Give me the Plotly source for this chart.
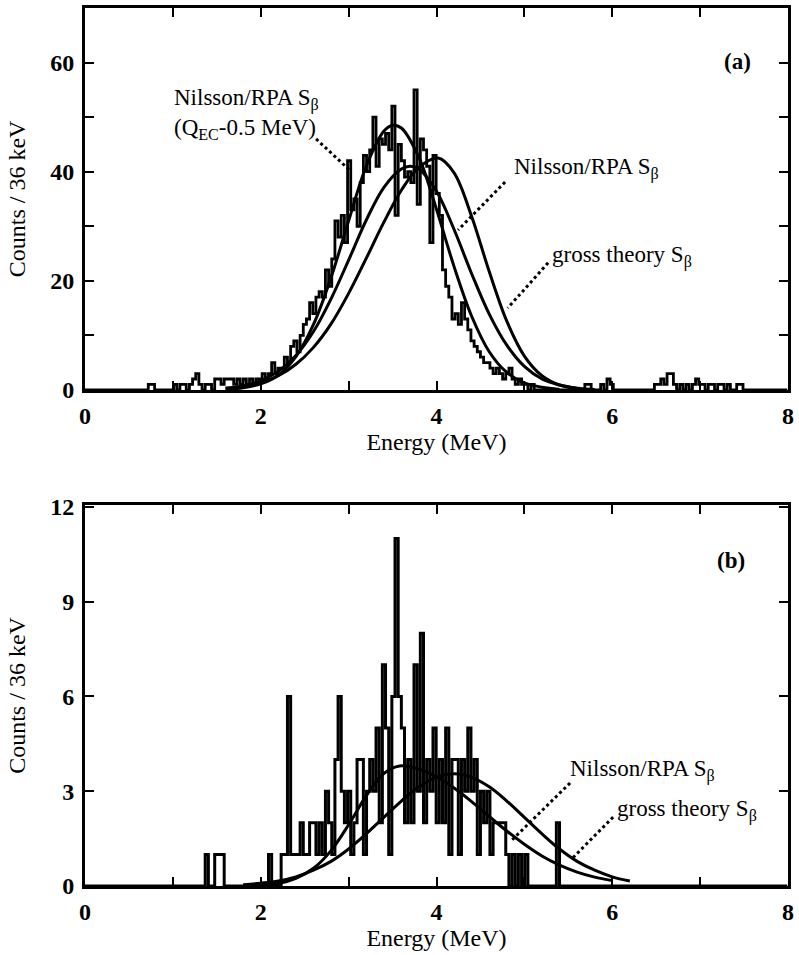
import plotly.graph_objects as go

BIN_WIDTH = 0.036  # MeV per bin (36 keV)

# ---- Panel (a): measured spectrum, counts per 36 keV bin starting at 0 MeV ----
counts_a = [
    0, 0, 0, 0, 0, 0, 0, 0, 0, 0,
    0, 0, 0, 0, 0, 0, 0, 0, 0, 0,
    1, 1, 0, 0, 0, 0, 0, 0, 1, 0,
    1, 1, 0, 1, 2, 3, 1, 0, 1, 1,
    0, 2, 2, 1, 2, 2, 2, 1, 2, 1,
    2, 1, 2, 1, 2, 2, 3, 2, 3, 5,
    3, 4, 4, 6, 5, 8, 9, 7, 10, 12,
    13, 16, 14, 17, 18, 17, 22, 19, 24, 31,
    28, 32, 27, 42, 33, 35, 30, 38, 43, 40,
    44, 50, 41, 46, 45, 47, 44, 52, 32, 45,
    42, 39, 40, 38, 55, 34, 46, 44, 41, 27,
    43, 36, 32, 22, 19, 17, 13, 14, 12, 16,
    13, 11, 9, 8, 7, 6, 5, 5, 4, 3,
    4, 3, 2, 3, 4, 2, 1, 2, 1, 1,
    0, 1, 0, 0, 0, 0, 0, 0, 0, 0,
    0, 0, 0, 0, 0, 0, 0, 0, 1, 1,
    0, 0, 0, 1, 0, 2, 1, 0, 0, 0,
    0, 0, 0, 0, 0, 0, 0, 0, 0, 0,
    1, 1, 2, 1, 3, 3, 1, 0, 1, 0,
    1, 0, 1, 2, 1, 1, 0, 1, 1, 0,
    1, 1, 0, 1, 0, 0, 1, 1, 0, 0,
    0, 0, 0, 0, 0, 0, 0, 0, 0, 0,
    0, 0,
]

# theory curves, panel (a)
qec_energy = [1.6, 1.8, 2.0, 2.2, 2.4, 2.6, 2.8, 3.0, 3.2, 3.4, 3.5, 3.6, 3.8,
              4.0, 4.2, 4.4, 4.6, 4.8, 5.0, 5.2, 5.4]
qec_counts = [0.1, 0.4, 1.1, 2.7, 6.1, 12.0, 20.6, 31.0, 41.0, 47.4, 48.5, 48.0,
              42.6, 33.1, 22.6, 13.5, 7.0, 3.2, 1.3, 0.5, 0.1]

nils_a_energy = [1.6, 1.8, 2.0, 2.2, 2.4, 2.6, 2.8, 3.0, 3.2, 3.4, 3.6, 3.7,
                 3.8, 4.0, 4.2, 4.4, 4.6, 4.8, 5.0, 5.2, 5.4, 5.6]
nils_a_counts = [0.3, 0.7, 1.7, 3.4, 6.3, 10.7, 16.7, 23.8, 31.1, 37.1, 40.5, 41.0,
                 40.5, 36.4, 29.4, 21.3, 13.9, 8.2, 4.3, 2.0, 0.9, 0.3]

gross_a_energy = [1.6, 1.8, 2.0, 2.2, 2.4, 2.6, 2.8, 3.0, 3.2, 3.4, 3.6, 3.8,
                  4.02, 4.2, 4.4, 4.6, 4.8, 5.0, 5.2, 5.4, 5.6, 5.8]
gross_a_counts = [0.3, 0.7, 1.4, 2.6, 4.7, 7.8, 12.1, 17.7, 24.1, 30.7, 36.6, 40.8,
                  42.5, 39.8, 31.8, 21.7, 12.6, 6.2, 2.6, 0.9, 0.3, 0.1]

# ---- Panel (b): measured spectrum ----
counts_b = [
    0, 0, 0, 0, 0, 0, 0, 0, 0, 0,
    0, 0, 0, 0, 0, 0, 0, 0, 0, 0,
    0, 0, 0, 0, 0, 0, 0, 0, 0, 0,
    0, 0, 0, 0, 0, 0, 0, 0, 1, 0,
    0, 1, 1, 1, 0, 0, 0, 0, 0, 0,
    0, 0, 0, 0, 0, 0, 0, 0, 1, 0,
    0, 0, 1, 1, 6, 1, 1, 1, 2, 1,
    1, 2, 2, 1, 2, 1, 3, 2, 1, 4,
    6, 3, 2, 3, 1, 2, 4, 4, 1, 3,
    4, 3, 5, 2, 7, 5, 1, 6, 11, 6,
    5, 2, 4, 2, 7, 3, 8, 2, 4, 3,
    5, 2, 4, 2, 5, 1, 4, 4, 1, 4,
    3, 5, 3, 4, 1, 3, 2, 3, 1, 2,
    2, 2, 2, 1, 0, 1, 0, 1, 0, 1,
    0, 0, 0, 0, 0, 0, 0, 0, 0, 2,
    0, 0, 0, 0, 0, 0, 0, 0, 0, 0,
    0, 0, 0, 0, 0, 0, 0, 0, 0, 0,
    0, 0, 0, 0, 0, 0, 0, 0, 0, 0,
    0, 0, 0, 0, 0, 0, 0, 0, 0, 0,
    0, 0, 0, 0, 0, 0, 0, 0, 0, 0,
    0, 0, 0, 0, 0, 0, 0, 0, 0, 0,
    0, 0, 0, 0, 0, 0, 0, 0, 0, 0,
    0, 0,
]

nils_b_energy = [1.8, 2.0, 2.2, 2.4, 2.6, 2.8, 3.0, 3.2, 3.4, 3.58, 3.8, 4.0,
                 4.2, 4.4, 4.6, 4.8, 5.0, 5.2, 5.4, 5.6, 5.8, 6.0]
nils_b_counts = [0.01, 0.03, 0.08, 0.24, 0.56, 1.12, 1.94, 2.85, 3.56, 3.8, 3.70,
                 3.46, 3.10, 2.67, 2.20, 1.74, 1.32, 0.95, 0.66, 0.44, 0.28, 0.17]

gross_b_energy = [1.8, 2.0, 2.2, 2.4, 2.6, 2.8, 3.0, 3.2, 3.4, 3.6, 3.8, 4.0,
                  4.2, 4.4, 4.6, 4.8, 5.0, 5.2, 5.4, 5.6, 5.8, 6.0, 6.2]
gross_b_counts = [0.04, 0.09, 0.16, 0.29, 0.50, 0.78, 1.17, 1.65, 2.17, 2.69, 3.14,
                  3.44, 3.55, 3.44, 3.14, 2.69, 2.17, 1.65, 1.17, 0.78, 0.50, 0.29,
                  0.16]

FONT = "Liberation Serif"
BLACK = "#000000"


def step_xy(counts):
    xs = [i * BIN_WIDTH for i in range(len(counts) + 1)]
    ys = list(counts) + [counts[-1]]
    return xs, ys


fig = go.Figure()

xa, ya = step_xy(counts_a)
fig.add_trace(go.Scatter(x=xa, y=ya, mode="lines", line=dict(color=BLACK, width=2.8, shape="hv"),
                         xaxis="x", yaxis="y", showlegend=False))
for ex, cy in [(qec_energy, qec_counts), (nils_a_energy, nils_a_counts), (gross_a_energy, gross_a_counts)]:
    fig.add_trace(go.Scatter(x=ex, y=cy, mode="lines",
                             line=dict(color=BLACK, width=3, shape="spline", smoothing=1.0),
                             xaxis="x", yaxis="y", showlegend=False))

xb, yb = step_xy(counts_b)
fig.add_trace(go.Scatter(x=xb, y=yb, mode="lines", line=dict(color=BLACK, width=3, shape="hv"),
                         xaxis="x2", yaxis="y2", showlegend=False))
for ex, cy in [(nils_b_energy, nils_b_counts), (gross_b_energy, gross_b_counts)]:
    fig.add_trace(go.Scatter(x=ex, y=cy, mode="lines",
                             line=dict(color=BLACK, width=3, shape="spline", smoothing=1.0),
                             xaxis="x2", yaxis="y2", showlegend=False))

tick_font = dict(family=FONT, size=24, color=BLACK, weight="bold")
title_font = dict(family=FONT, size=24, color=BLACK)
minor_style = dict(ticks="inside", ticklen=9, tickwidth=2, tickcolor=BLACK, showgrid=False)

common_x = dict(range=[0, 8], tick0=0, dtick=2, ticks="inside",
                ticklen=9, tickwidth=2, tickcolor=BLACK, showline=True, linewidth=3,
                linecolor=BLACK, mirror="ticks", showgrid=False, zeroline=False,
                tickfont=tick_font, ticklabelstandoff=2, automargin=False,
                minor=dict(minor_style, dtick=1))
common_y = dict(ticks="inside", ticklen=9, tickwidth=2, tickcolor=BLACK, showline=True,
                linewidth=3, linecolor=BLACK, mirror="ticks", showgrid=False,
                zeroline=False, tickfont=tick_font, ticklabelstandoff=3, automargin=False)

fig.update_layout(
    width=799, height=955,
    margin=dict(l=85, r=11, t=8, b=69),
    paper_bgcolor="white", plot_bgcolor="white",
    font=dict(family=FONT, size=23, color=BLACK),
    xaxis=dict(common_x, domain=[0, 1], anchor="y",
               title=dict(text="Energy (MeV)", font=title_font, standoff=0)),
    yaxis=dict(common_y, domain=[0.565, 1.0], anchor="x", range=[0, 70],
               tick0=0, dtick=20, minor=dict(minor_style, dtick=10),
               title=dict(text="Counts / 36 keV", font=title_font, standoff=18)),
    xaxis2=dict(common_x, domain=[0, 1], anchor="y2",
                title=dict(text="Energy (MeV)", font=title_font, standoff=0)),
    yaxis2=dict(common_y, domain=[0, 0.434], anchor="x2", range=[0, 12.06],
                tick0=0, dtick=3,
                title=dict(text="Counts / 36 keV", font=title_font, standoff=18)),
)

lab_font = dict(family=FONT, size=23, color=BLACK)
ann = [
    dict(x=7.42, y=60.2, xref="x", yref="y", text="<b>(a)</b>", showarrow=False, font=lab_font),
    dict(x=0.99, y=50.5, xref="x", yref="y", xanchor="left", yanchor="middle", align="left",
         text="Nilsson/RPA S<sub>β</sub><br>(Q<sub>EC</sub>-0.5 MeV)", showarrow=False, font=lab_font),
    dict(x=4.86, y=40.5, xref="x", yref="y", xanchor="left", yanchor="middle",
         text="Nilsson/RPA S<sub>β</sub>", showarrow=False, font=lab_font),
    dict(x=5.29, y=24.5, xref="x", yref="y", xanchor="left", yanchor="middle",
         text="gross theory S<sub>β</sub>", showarrow=False, font=lab_font),
    dict(x=7.35, y=10.3, xref="x2", yref="y2", text="<b>(b)</b>", showarrow=False, font=lab_font),
    dict(x=5.5, y=3.66, xref="x2", yref="y2", xanchor="left", yanchor="middle",
         text="Nilsson/RPA S<sub>β</sub>", showarrow=False, font=lab_font),
    dict(x=6.03, y=2.4, xref="x2", yref="y2", xanchor="left", yanchor="middle",
         text="gross theory S<sub>β</sub>", showarrow=False, font=lab_font),
]
fig.update_layout(annotations=ann)

# hatched pointer lines
pointers = [
    ("x", "y", 2.63, 46.0, 3.03, 40.0),
    ("x", "y", 4.78, 38.1, 4.245, 29.3),
    ("x", "y", 5.27, 23.3, 4.81, 15.0),
    ("x2", "y2", 5.52, 3.26, 4.86, 1.46),
    ("x2", "y2", 6.01, 2.18, 5.55, 0.89),
]
for xr, yr, x0, y0, x1, y1 in pointers:
    fig.add_shape(type="line", xref=xr, yref=yr, x0=x0, y0=y0, x1=x1, y1=y1,
                  line=dict(color=BLACK, width=3, dash="dot"))

fig.write_html("out.html")
